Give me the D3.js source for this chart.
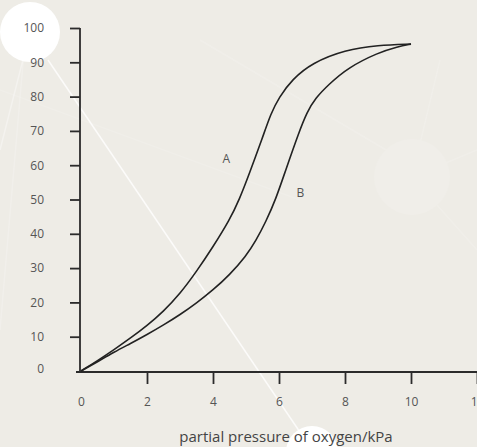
<!DOCTYPE html>
<html>
<head>
<meta charset="utf-8">
<script src="https://cdn.jsdelivr.net/npm/d3@7"></script>
<style>
  body { margin: 0; background: #eeece6; }
  svg { display: block; }
</style>
</head>
<body>
<svg id="chart"></svg>
<script>
// oxygen dissociation curves
const curveA = [
    [0, 0], [0.5, 3], [1, 6.2], [1.5, 9.6], [2, 13.2], [2.5, 17.4], [3, 22.5],
    [3.5, 29], [4, 36.2], [4.5, 44], [4.8, 50], [5.1, 57.5], [5.5, 68],
    [5.75, 75], [6, 79.8], [6.4, 85], [7, 89.8], [8, 93.6], [9, 95], [10, 95.3]
];
const curveB = [
    [0, 0], [0.5, 2.7], [1, 5.5], [1.5, 8], [2, 10.6], [2.5, 13.4], [3, 16.4],
    [3.5, 19.8], [4, 23.6], [4.5, 28], [5, 33.5], [5.3, 38], [5.6, 43.5],
    [5.9, 50], [6.2, 58.5], [6.6, 69.5], [6.85, 75.5], [7.1, 79.5], [7.5, 83.5],
    [8.1, 88.5], [9, 92.8], [9.6, 94.6], [10, 95.3]
];
const curveLabels = [
    { label: "A", x: 4.4, y: 62 },
    { label: "B", x: 6.65, y: 52 }
];
const xTicks = [0, 2, 4, 6, 8, 10, 12];
const yTicks = [0, 10, 20, 30, 40, 50, 60, 70, 80, 90, 100];

const width = 477;
const height = 447;
const font = "'Open Sans', sans-serif";

const svg = d3.select("#chart")
    .attr("width", width)
    .attr("height", height);

// decorative background
const bg = svg.append("g");
bg.append("rect").attr("width", width).attr("height", height).attr("fill", "#eeece6");
const bgLines = [
    [30, 32, 0, 150, 0.35],
    [25, 40, 0, 330, 0.2],
    [48, 60, 310, 447, 0.8],
    [0, 90, 300, 200, 0.12],
    [200, 40, 420, 170, 0.15],
    [412, 177, 477, 150, 0.15],
    [412, 177, 440, 60, 0.15],
    [412, 177, 477, 250, 0.15]
];
bgLines.forEach(d => {
    bg.append("line")
        .attr("x1", d[0]).attr("y1", d[1])
        .attr("x2", d[2]).attr("y2", d[3])
        .attr("stroke", "#ffffff")
        .attr("stroke-opacity", d[4])
        .attr("stroke-width", 1.5);
});
bg.append("circle").attr("cx", 412).attr("cy", 177).attr("r", 38).attr("fill", "#f0eee9");
bg.append("circle").attr("cx", 30).attr("cy", 32).attr("r", 30).attr("fill", "#ffffff");
bg.append("circle").attr("cx", 312).attr("cy", 452).attr("r", 26).attr("fill", "#ffffff");

const x = d3.scaleLinear().domain([0, 12]).range([81, 477]);
const y = d3.scaleLinear().domain([0, 100]).range([371, 28]);

// y axis
const yAxis = svg.append("g")
    .attr("transform", `translate(80,0)`)
    .call(d3.axisLeft(y).tickValues(yTicks).tickSize(10).tickSizeOuter(0).tickPadding(26));
yAxis.select(".domain").attr("d", `M0,${y(100)}V${y(0) + 1}`);
yAxis.selectAll(".tick").filter(d => d === 0).select("line").remove();
yAxis.selectAll(".tick").filter(d => d === 0).select("text").attr("y", -2);

// x axis
const xAxis = svg.append("g")
    .attr("transform", `translate(0,372)`)
    .call(d3.axisBottom(x).tickValues(xTicks).tickSize(12).tickSizeOuter(0).tickPadding(13));
xAxis.select(".domain").attr("d", `M76,0H${width}`);
xAxis.selectAll(".tick").filter(d => d === 0).select("line").remove();

svg.selectAll(".domain, .tick line")
    .attr("stroke", "#2b2b2b")
    .attr("stroke-width", 1.8);
svg.selectAll(".tick text")
    .attr("fill", "#555")
    .style("font-family", font)
    .style("font-size", "12px");

svg.append("text")
    .attr("x", 286)
    .attr("y", 442)
    .attr("text-anchor", "middle")
    .attr("fill", "#444")
    .style("font-family", font)
    .style("font-size", "15px")
    .text("partial pressure of oxygen/kPa");

// curves
const line = d3.line()
    .x(d => x(d[0]))
    .y(d => y(d[1]))
    .curve(d3.curveBasis);

[curveA, curveB].forEach(data => {
    svg.append("path")
        .datum(data)
        .attr("d", line)
        .attr("fill", "none")
        .attr("stroke", "#222")
        .attr("stroke-width", 1.6);
});

curveLabels.forEach(item => {
    svg.append("text")
        .attr("x", x(item.x))
        .attr("y", y(item.y))
        .attr("text-anchor", "middle")
        .attr("dy", "0.35em")
        .attr("fill", "#555")
        .style("font-family", font)
        .style("font-size", "12px")
        .text(item.label);
});
</script>
</body>
</html>
